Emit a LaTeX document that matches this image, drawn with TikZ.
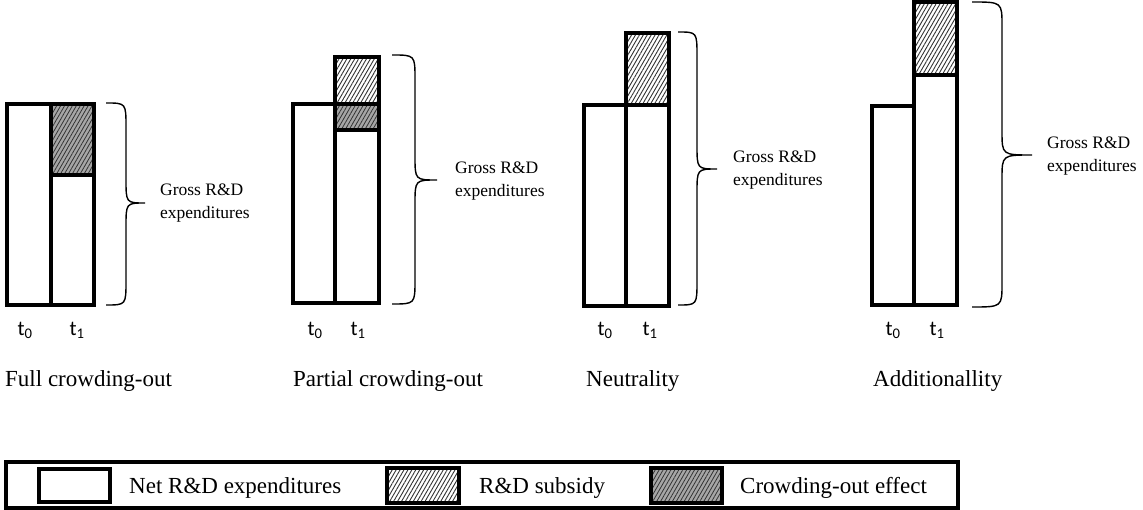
\documentclass[tikz,border=0pt]{standalone}
\usepackage{fontspec}
\setmainfont{Liberation Serif}
\newfontfamily\labfont{Carlito}
\usetikzlibrary{patterns.meta}
\tikzset{
  outline/.style={draw=black, line width=3.3pt, line join=miter},
  netfill/.style={fill=white},
  subfill/.style={pattern={Lines[angle=60,distance=3.4pt,line width=0.9pt]}, pattern color=black!80},
  crowdbase/.style={fill=black!35},
  crowdlines/.style={pattern={Lines[angle=60,distance=3.4pt,line width=0.8pt]}, pattern color=black!80},
  bracestyle/.style={draw=black, line width=1.4pt},
  grosslabel/.style={anchor=west, align=left, inner sep=0pt, font=\fontsize{17.5}{23}\selectfont},
  tlabel/.style={anchor=center, inner sep=0pt, font=\labfont\fontsize{21}{22}\selectfont},
  caption/.style={anchor=base west, inner sep=0pt, font=\fontsize{23}{26}\selectfont},
  legtext/.style={anchor=base west, inner sep=0pt, font=\fontsize{23}{26}\selectfont},
}
% net block
\newcommand\netblk[4]{\path[netfill] (#1,#2) rectangle (#3,#4);\draw[outline] (#1,#2) rectangle (#3,#4);}
\newcommand\subblk[4]{\path[fill=white] (#1,#2) rectangle (#3,#4);\path[subfill] (#1,#2) rectangle (#3,#4);\draw[outline] (#1,#2) rectangle (#3,#4);}
\newcommand\crowdblk[4]{\path[crowdbase] (#1,#2) rectangle (#3,#4);\path[crowdlines] (#1,#2) rectangle (#3,#4);\draw[outline] (#1,#2) rectangle (#3,#4);}
% brace: x0, xv, xtip, ytop, ybot, ytip
\newcommand\rdbrace[6]{%
  \draw[bracestyle] (#1,#4) .. controls (#2,#4) .. (#2,#4+24)
    -- (#2,#6-24) .. controls (#2,#6) .. (#3,#6)
    .. controls (#2,#6) .. (#2,#6+24)
    -- (#2,#5-24) .. controls (#2,#5) .. (#1,#5);}
\begin{document}
\begin{tikzpicture}[x=1pt,y=-1pt]
\useasboundingbox (0,0) rectangle (1143,510);

% Panel 1: Full crowding-out
\netblk{7}{104}{51}{305}
\netblk{51}{175}{94}{305}
\crowdblk{51}{104}{94}{175}
\rdbrace{106}{126}{145}{103}{305}{203}
\node[grosslabel] (g1) at (160,203) {Gross R\&D\\expenditures};
\node[tlabel] (a0) at (25,330) {t\textsubscript{0}};
\node[tlabel] (a1) at (77,330) {t\textsubscript{1}};
\node[caption] (c1) at (5,387) {Full crowding-out};

% Panel 2: Partial crowding-out
\netblk{293}{104}{335}{303}
\netblk{335}{130}{379}{303}
\crowdblk{335}{104}{379}{130}
\subblk{335}{57}{379}{104}
\rdbrace{392}{415}{437}{55}{304}{180}
\node[grosslabel] (g2) at (455,181) {Gross R\&D\\expenditures};
\node[tlabel] (b0) at (315,330) {t\textsubscript{0}};
\node[tlabel] (b1) at (358,330) {t\textsubscript{1}};
\node[caption] (c2) at (293,387) {Partial crowding-out};

% Panel 3: Neutrality
\netblk{584}{105}{626}{306}
\netblk{626}{105}{669}{306}
\subblk{626}{33}{669}{105}
\rdbrace{678}{697}{717}{32}{305}{169}
\node[grosslabel] (g3) at (733,170) {Gross R\&D\\expenditures};
\node[tlabel] (d0) at (605,330) {t\textsubscript{0}};
\node[tlabel] (d1) at (650,330) {t\textsubscript{1}};
\node[caption] (c3) at (586,387) {Neutrality};

% Panel 4: Additionality
\netblk{872}{106}{914}{305}
\netblk{914}{75}{957}{305}
\subblk{914}{2}{957}{75}
\rdbrace{972}{1002}{1032}{2}{307}{155}
\node[grosslabel] (g4) at (1047,156) {Gross R\&D\\expenditures};
\node[tlabel] (e0) at (893,330) {t\textsubscript{0}};
\node[tlabel] (e1) at (937,330) {t\textsubscript{1}};
\node[caption] (c4) at (873,387) {Additionallity};

% Legend
\draw[outline] (6,462) rectangle (958,508);
\netblk{39}{469}{110}{502}
\node[legtext] (l1) at (129,493) {Net R\&D expenditures};
\subblk{387}{468}{459}{503}
\node[legtext] (l2) at (479,493) {R\&D subsidy};
\crowdblk{651}{468}{722}{503}
\node[legtext] (l3) at (740,493) {Crowding-out effect};
\end{tikzpicture}
\end{document}
